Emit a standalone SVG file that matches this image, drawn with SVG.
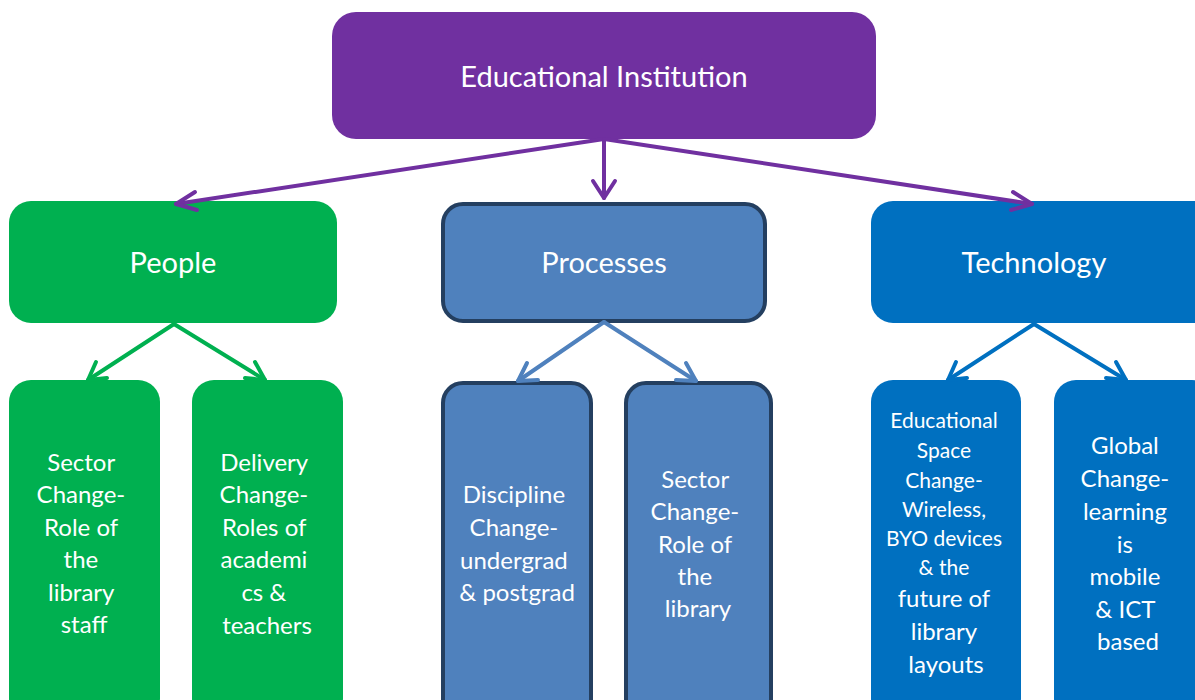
<svg xmlns="http://www.w3.org/2000/svg" width="1195" height="700" viewBox="0 0 1195 700">
  <defs>
    <style>
      text { font-family: Lato, "Open Sans", "Liberation Sans", sans-serif; fill: #ffffff; text-anchor: middle; dominant-baseline: central; }
      .big { font-size: 29px; }
      .small { font-size: 24px; }
      .tiny { font-size: 21px; }
      .purple { fill: #7030A0; }
      .green { fill: #00B050; }
      .steel { fill: #4F81BD; stroke: #243F60; stroke-width: 4; }
      .blue { fill: #0070C0; }
      .c-purple { stroke: #7030A0; }
      .c-green { stroke: #00B050; }
      .c-steel { stroke: #4F81BD; }
      .c-blue { stroke: #0070C0; }
      #connectors line, #connectors path { stroke-width: 4; fill: none; stroke-linecap: round; stroke-linejoin: round; }
    </style>
  </defs>

  <!-- top level -->
  <g id="institution">
    <rect class="purple" x="332" y="12" width="544" height="127" rx="24"/>
    <text class="big" x="604" y="75">Educational Institution</text>
  </g>

  <!-- second level -->
  <g id="people">
    <rect class="green" x="9" y="201" width="328" height="122" rx="22"/>
    <text class="big" x="173" y="261">People</text>
  </g>
  <g id="processes">
    <rect class="steel" x="443" y="204" width="322" height="117" rx="20"/>
    <text class="big" x="604" y="261">Processes</text>
  </g>
  <g id="technology">
    <rect class="blue" x="871" y="201" width="344" height="122" rx="22"/>
    <text class="big" x="1034" y="261">Technology</text>
  </g>

  <!-- third level -->
  <g id="sector-people">
    <rect class="green" x="9" y="380" width="151" height="340" rx="22"/>
    <text class="small" x="84">
      <tspan x="84" y="461">Sector</tspan>
      <tspan x="84" y="493">Change-</tspan>
      <tspan x="84" y="526">Role of</tspan>
      <tspan x="84" y="558">the</tspan>
      <tspan x="84" y="591">library</tspan>
      <tspan x="84" y="623">staff</tspan>
    </text>
  </g>
  <g id="delivery">
    <rect class="green" x="192" y="380" width="151" height="340" rx="22"/>
    <text class="small" x="267">
      <tspan x="267" y="461">Delivery</tspan>
      <tspan x="267" y="493">Change-</tspan>
      <tspan x="267" y="526">Roles of</tspan>
      <tspan x="267" y="558">academi</tspan>
      <tspan x="267" y="591">cs &amp;</tspan>
      <tspan x="267" y="624">teachers</tspan>
    </text>
  </g>
  <g id="discipline">
    <rect class="steel" x="443" y="383" width="148" height="340" rx="20"/>
    <text class="small" x="517">
      <tspan x="517" y="493">Discipline</tspan>
      <tspan x="517" y="526">Change-</tspan>
      <tspan x="517" y="559">undergrad</tspan>
      <tspan x="517" y="591">&amp; postgrad</tspan>
    </text>
  </g>
  <g id="sector-processes">
    <rect class="steel" x="626" y="383" width="145" height="340" rx="20"/>
    <text class="small" x="698">
      <tspan x="698" y="478">Sector</tspan>
      <tspan x="698" y="510">Change-</tspan>
      <tspan x="698" y="543">Role of</tspan>
      <tspan x="698" y="575">the</tspan>
      <tspan x="698" y="607">library</tspan>
    </text>
  </g>
  <g id="educational-space">
    <rect class="blue" x="871" y="380" width="150" height="340" rx="22"/>
    <text x="946">
      <tspan class="tiny" x="946" y="419">Educational</tspan>
      <tspan class="tiny" x="946" y="449">Space</tspan>
      <tspan class="tiny" x="946" y="479">Change-</tspan>
      <tspan class="tiny" x="946" y="508">Wireless,</tspan>
      <tspan class="tiny" x="946" y="537">BYO devices</tspan>
      <tspan class="tiny" x="946" y="566">&amp; the</tspan>
      <tspan class="small" x="946" y="597">future of</tspan>
      <tspan class="small" x="946" y="630">library</tspan>
      <tspan class="small" x="946" y="663">layouts</tspan>
    </text>
  </g>
  <g id="global">
    <rect class="blue" x="1054" y="380" width="160" height="340" rx="22"/>
    <text class="small" x="1128">
      <tspan x="1128" y="444">Global</tspan>
      <tspan x="1128" y="477">Change-</tspan>
      <tspan x="1128" y="510">learning</tspan>
      <tspan x="1128" y="543">is</tspan>
      <tspan x="1128" y="575">mobile</tspan>
      <tspan x="1128" y="608">&amp; ICT</tspan>
      <tspan x="1128" y="640">based</tspan>
    </text>
  </g>

  <!-- connectors with open V heads, drawn over the box edges -->
  <g id="connectors">
    <line class="c-purple" x1="604" y1="139" x2="176" y2="204"/>
    <path class="c-purple" d="M195,192 L176,204 L197,210"/>
    <line class="c-purple" x1="604" y1="139" x2="604" y2="198"/>
    <path class="c-purple" d="M593,181 L604,198 L615,181"/>
    <line class="c-purple" x1="604" y1="139" x2="1032" y2="204"/>
    <path class="c-purple" d="M1013,192 L1032,204 L1011,210"/>

    <line class="c-green" x1="174" y1="324" x2="88" y2="380"/>
    <path class="c-green" d="M96,362 L88,380 L107,378"/>
    <line class="c-green" x1="174" y1="324" x2="265" y2="380"/>
    <path class="c-green" d="M255,362 L265,380 L245,378"/>

    <line class="c-steel" x1="604" y1="322" x2="518" y2="381"/>
    <path class="c-steel" d="M527,363 L518,381 L538,380"/>
    <line class="c-steel" x1="604" y1="322" x2="696" y2="381"/>
    <path class="c-steel" d="M686,363 L696,381 L676,380"/>

    <line class="c-blue" x1="1034" y1="324" x2="948" y2="380"/>
    <path class="c-blue" d="M956,362 L948,380 L967,378"/>
    <line class="c-blue" x1="1034" y1="324" x2="1126" y2="380"/>
    <path class="c-blue" d="M1116,362 L1126,380 L1106,378"/>
  </g>
</svg>
